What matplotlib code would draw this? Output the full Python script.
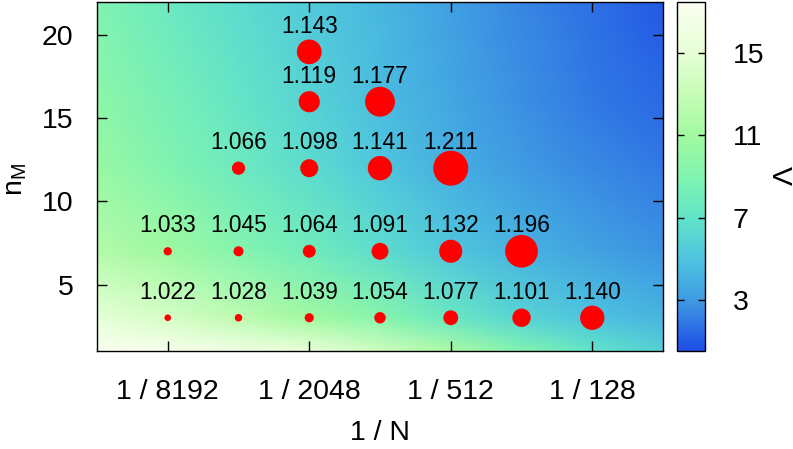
import numpy as np
import matplotlib
matplotlib.use("Agg")
import matplotlib.pyplot as plt
from matplotlib.colors import LinearSegmentedColormap

plt.rcParams['font.family'] = ['Liberation Sans', 'DejaVu Sans']
plt.rcParams['mathtext.default'] = 'regular'

# ---- data ----
# points: system size N, n_M, ratio value
pt_N = [8192, 4096, 2048, 1024, 512, 256, 128,
        8192, 4096, 2048, 1024, 512, 256,
        4096, 2048, 1024, 512,
        2048, 1024,
        2048]
pt_nM = [3, 3, 3, 3, 3, 3, 3,
         7, 7, 7, 7, 7, 7,
         12, 12, 12, 12,
         16, 16,
         19]
pt_val = [1.022, 1.028, 1.039, 1.054, 1.077, 1.101, 1.140,
          1.033, 1.045, 1.064, 1.091, 1.132, 1.196,
          1.066, 1.098, 1.141, 1.211,
          1.119, 1.177,
          1.143]

# background field V (estimated from the colours), rows = n_M, cols = log2(1/N)
bg_log2x = [-14, -13, -12, -11, -10, -9, -8, -7, -6]
bg_nM = [1, 3, 7, 12, 16, 22]
bg_V = [
    [17.4, 17.0, 16.3, 15.3, 13.5, 11.5, 9.0, 7.0, 5.8],
    [15.0, 14.0, 12.5, 11.0, 9.5, 7.5, 6.0, 5.0, 4.3],
    [12.0, 10.8, 9.3, 8.0, 6.6, 5.2, 4.2, 3.4, 2.8],
    [10.5, 9.0, 7.8, 6.5, 5.2, 4.0, 3.1, 2.5, 2.0],
    [9.8, 8.5, 7.2, 5.9, 4.7, 3.6, 2.7, 2.0, 1.5],
    [9.0, 7.6, 6.5, 5.4, 4.4, 3.3, 2.4, 1.7, 1.0],
]

xtick_N = [8192, 2048, 512, 128]
xtick_labels = ['1 / 8192', '1 / 2048', '1 / 512', '1 / 128']
ytick_vals = [5, 10, 15, 20]
cbar_ticks = [3, 7, 11, 15]

vmin, vmax = 0.55, 17.45
cmap = LinearSegmentedColormap.from_list('v', [
    (0.0, '#1e4de6'),
    ((3 - vmin) / (vmax - vmin), '#3f9ae2'),
    ((5 - vmin) / (vmax - vmin), '#4ec4df'),
    ((7 - vmin) / (vmax - vmin), '#62e4c8'),
    ((9 - vmin) / (vmax - vmin), '#80f4b0'),
    ((11 - vmin) / (vmax - vmin), '#a2f9a0'),
    ((13 - vmin) / (vmax - vmin), '#c6fcb6'),
    ((15 - vmin) / (vmax - vmin), '#e6ffd6'),
    (1.0, '#fafff0'),
])

fig = plt.figure(figsize=(7.93, 4.49), dpi=100)
ax = fig.add_axes([0.1223, 0.2183, 0.7138, 0.7772])
cax = fig.add_axes([0.8537, 0.2183, 0.0353, 0.7772])

X, Y = np.meshgrid(2.0 ** np.array(bg_log2x), bg_nM)
mesh = ax.pcolormesh(X, Y, np.array(bg_V), cmap=cmap, vmin=vmin, vmax=vmax,
                     shading='gouraud', rasterized=True)

x = 1.0 / np.array(pt_N, dtype=float)
v = np.array(pt_val)
r_px = 1.65 + 75 * (v - 1)
sizes = (2 * r_px * 0.72) ** 2
ax.scatter(x, pt_nM, s=sizes, c='#ff0000', edgecolors='none', zorder=3)
for xi, yi, vi in zip(x, pt_nM, pt_val):
    ax.annotate('%.3f' % vi, (xi, yi), xytext=(0, 18.5), textcoords='offset points',
                ha='center', va='center', fontsize=16.4, zorder=4)

ax.set_xscale('log', base=2)
ax.set_xlim(1 / 16384, 1 / 64)
ax.set_ylim(1, 22)
ax.set_xticks([1.0 / n for n in xtick_N], labels=xtick_labels)
ax.minorticks_off()
ax.set_yticks(ytick_vals)
ax.tick_params(direction='in', length=7, width=1, top=True, right=True, labelsize=20.5)
ax.tick_params(axis='x', pad=20)
ax.tick_params(axis='y', pad=17)
for s in ax.spines.values():
    s.set_linewidth(1)

ax.set_xlabel('1 / N', fontsize=20.5, va='center')
ax.xaxis.set_label_coords(0.5, -0.235)
ax.set_ylabel('n$_{M}$', fontsize=20.5, va='center')
ax.yaxis.set_label_coords(-0.143, 0.49)

cb = fig.colorbar(mesh, cax=cax, ticks=cbar_ticks)
cb.outline.set_linewidth(1)
cax.tick_params(direction='in', length=5, width=1, left=True, right=True,
                labelsize=20.5, pad=20)
fig.text(779 / 793, 1 - 176 / 449, 'V', rotation=-90, ha='center', va='center',
         fontsize=20.5)

fig.savefig('out.png', dpi=100)
